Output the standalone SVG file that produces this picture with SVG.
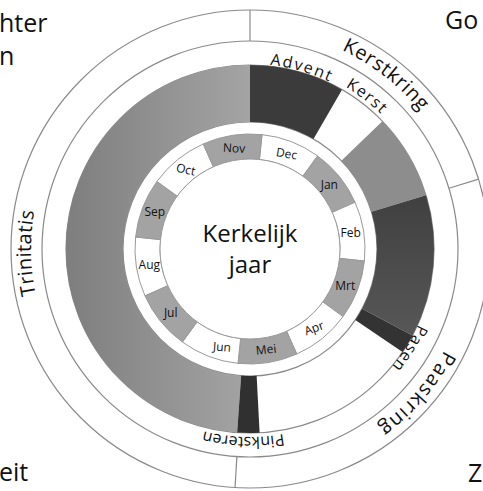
<svg xmlns="http://www.w3.org/2000/svg" width="483" height="491" viewBox="0 0 483 491">
<defs>
<linearGradient id="gTrin" gradientUnits="userSpaceOnUse" x1="66" y1="249" x2="250" y2="249">
<stop offset="0" stop-color="#7e7e7e"/><stop offset="1" stop-color="#a4a4a4"/>
</linearGradient>
<linearGradient id="gLent" gradientUnits="userSpaceOnUse" x1="400" y1="190" x2="400" y2="335">
<stop offset="0" stop-color="#3f3f3f"/><stop offset="1" stop-color="#575757"/>
</linearGradient>
<path id="pKerstkring" d="M 77.4 114.2 A 219 219 0 0 1 422.6 383.8"/>
<path id="pPaaskring" d="M 393.7 83.7 A 219 219 0 0 1 106.3 414.3"/>
<path id="pTrinitatis" d="M 253.8 468.0 A 219 219 0 0 1 246.2 30.0"/>
<path id="pAdvent" d="M 69.3 197.2 A 188 188 0 0 1 430.7 300.8"/>
<path id="pKerst" d="M 100.8 134.5 A 188 188 0 0 1 399.2 363.5"/>
<path id="pPasen" d="M 349.6 89.6 A 188 188 0 0 1 150.4 408.4"/>
<path id="pPinksteren" d="M 437.9 255.6 A 188 188 0 0 1 62.1 242.4"/>
</defs>
<style>
.ring{fill:none;stroke:#8a8a8a;stroke-width:1.2}
.div{stroke:#8a8a8a;stroke-width:1.2}
.mw{fill:#ffffff;stroke:#9a9a9a;stroke-width:1}
.mg{fill:#a3a3a3;stroke:#9a9a9a;stroke-width:1}
.m{font-family:'Open Sans','Noto Sans',sans-serif;font-size:12px;fill:#111;text-anchor:middle}
.outer{font-family:'Open Sans','Noto Sans',sans-serif;font-size:20px;fill:#111;text-anchor:middle}
.inner{font-family:'Open Sans','Noto Sans',sans-serif;font-size:16px;fill:#111;text-anchor:middle}
.corner{font-family:'Open Sans','Noto Sans',sans-serif;font-size:25px;fill:#111}
.title{font-family:'Open Sans','Noto Sans',sans-serif;font-size:24px;fill:#111;text-anchor:middle}
</style>
<rect width="483" height="491" fill="#ffffff"/>

<g id="corner-texts">
<text class="corner" x="-1" y="32">hter</text>
<text class="corner" x="-1" y="65">n</text>
<text class="corner" x="445" y="29">Go</text>
<text class="corner" x="-1" y="481">eit</text>
<text class="corner" x="468" y="482">Z</text>
</g>

<g id="rings">
<circle class="ring" cx="250" cy="249" r="239"/>
<circle class="ring" cx="250" cy="249" r="208"/>
<circle class="ring" cx="250" cy="249" r="184"/>
<circle class="ring" cx="250" cy="249" r="127"/>
</g>

<g id="connectors">
<line class="div" x1="250" y1="41" x2="250" y2="10"/>
<line class="div" x1="448.9" y1="188.2" x2="478.6" y2="179.1"/>
<line class="div" x1="236.9" y1="456.6" x2="235.0" y2="487.5"/>
</g>

<g id="seasons">
<path id="trinitatis-sector" fill="url(#gTrin)" d="M 237.16 432.56 A 184 184 0 0 1 250 65 L 250 122 A 127 127 0 0 0 241.14 375.70 Z"/>
<path id="advent-sector" fill="#3b3b3b" d="M 250 65 A 184 184 0 0 1 342 89.66 L 313.5 139.02 A 127 127 0 0 0 250 122 Z"/>
<path id="epifanie-sector" fill="#8d8d8d" d="M 382.35 121.18 A 184 184 0 0 1 425.96 195.20 L 371.45 211.87 A 127 127 0 0 0 341.35 160.77 Z"/>
<path id="lent-sector" fill="url(#gLent)" d="M 425.96 195.20 A 184 184 0 0 1 412.45 335.39 L 362.13 308.63 A 127 127 0 0 0 371.45 211.87 Z"/>
<path id="holyweek-sector" fill="#333333" d="M 412.45 335.39 A 184 184 0 0 1 402.54 351.89 L 355.28 320.02 A 127 127 0 0 0 362.13 308.63 Z"/>
<path id="pinksteren-sector" fill="#303030" d="M 259.62 432.74 A 184 184 0 0 1 237.16 432.56 L 241.14 375.70 A 127 127 0 0 0 256.64 375.83 Z"/>
</g>

<g id="months">
<g id="dec"><path class="mw" d="M 262.02 134.63 A 115 115 0 0 1 317.60 155.96 L 302.90 176.19 A 90 90 0 0 0 259.41 159.49 Z"/><text class="m" x="286.6" y="157.8" transform="rotate(10 286.6 153.8)">Dec</text></g>
<g id="jan"><path class="mg" d="M 317.60 155.96 A 115 115 0 0 1 355.05 202.23 L 332.22 212.40 A 90 90 0 0 0 302.90 176.19 Z"/><text class="m" x="329.3" y="188.8">Jan</text></g>
<g id="feb"><path class="mw" d="M 355.05 202.23 A 115 115 0 0 1 364.37 261.02 L 339.51 258.41 A 90 90 0 0 0 332.22 212.40 Z"/><text class="m" x="350.7" y="237.0">Feb</text></g>
<g id="mrt"><path class="mg" d="M 364.37 261.02 A 115 115 0 0 1 343.04 316.60 L 322.81 301.90 A 90 90 0 0 0 339.51 258.41 Z"/><text class="m" x="345.2" y="289.6">Mrt</text></g>
<g id="apr"><path class="mw" d="M 343.04 316.60 A 115 115 0 0 1 296.77 354.05 L 286.60 331.22 A 90 90 0 0 0 322.81 301.90 Z"/><text class="m" x="314.2" y="332.3" transform="rotate(-20 314.2 328.3)">Apr</text></g>
<g id="mei"><path class="mg" d="M 296.77 354.05 A 115 115 0 0 1 237.98 363.37 L 240.59 338.51 A 90 90 0 0 0 286.60 331.22 Z"/><text class="m" x="266.0" y="353.7" transform="rotate(-6 266 349.7)">Mei</text></g>
<g id="jun"><path class="mw" d="M 237.98 363.37 A 115 115 0 0 1 182.40 342.04 L 197.10 321.81 A 90 90 0 0 0 240.59 338.51 Z"/><text class="m" x="221.9" y="351.1" transform="rotate(4 221.9 347.1)">Jun</text></g>
<g id="jul"><path class="mg" d="M 182.40 342.04 A 115 115 0 0 1 144.95 295.77 L 167.79 285.60 A 90 90 0 0 0 197.10 321.81 Z"/><text class="m" x="170.7" y="317.2">Jul</text></g>
<g id="aug"><path class="mw" d="M 144.95 295.77 A 115 115 0 0 1 135.63 236.98 L 160.49 239.59 A 90 90 0 0 0 167.79 285.60 Z"/><text class="m" x="149.3" y="269.0">Aug</text></g>
<g id="sep"><path class="mg" d="M 135.63 236.98 A 115 115 0 0 1 156.97 181.40 L 177.19 196.10 A 90 90 0 0 0 160.49 239.59 Z"/><text class="m" x="154.8" y="216.4">Sep</text></g>
<g id="oct"><path class="mw" d="M 156.97 181.40 A 115 115 0 0 1 203.23 143.95 L 213.40 166.79 A 90 90 0 0 0 177.19 196.10 Z"/><text class="m" x="185.8" y="173.7" transform="rotate(12 185.8 169.7)">Oct</text></g>
<g id="nov"><path class="mg" d="M 203.23 143.95 A 115 115 0 0 1 262.02 134.63 L 259.41 159.49 A 90 90 0 0 0 213.40 166.79 Z"/><text class="m" x="234.0" y="152.3" transform="rotate(3 234 148.3)">Nov</text></g>
</g>

<g id="center">
<circle cx="250" cy="249" r="90" fill="#ffffff" stroke="#9a9a9a" stroke-width="1"/>
<text class="title" x="250" y="242">Kerkelijk</text>
<text class="title" x="250" y="273">jaar</text>
</g>

<g id="labels">
<text id="kerstkring" class="outer" letter-spacing="0.6"><textPath href="#pKerstkring" startOffset="50%">Kerstkring</textPath></text>
<text id="paaskring" class="outer" letter-spacing="1.4"><textPath href="#pPaaskring" startOffset="50%">Paaskring</textPath></text>
<text id="trinitatis" class="outer" letter-spacing="0.3"><textPath href="#pTrinitatis" startOffset="50%">Trinitatis</textPath></text>
<text id="advent" class="inner" letter-spacing="1.8"><textPath href="#pAdvent" startOffset="50%">Advent</textPath></text>
<text id="kerst" class="inner" letter-spacing="1.5"><textPath href="#pKerst" startOffset="50%">Kerst</textPath></text>
<text id="pasen" class="inner" letter-spacing="1.2"><textPath href="#pPasen" startOffset="50%">Pasen</textPath></text>
<text id="pinksteren" class="inner" font-size="15" letter-spacing="0.1"><textPath href="#pPinksteren" startOffset="50%">Pinksteren</textPath></text>
</g>
</svg>
